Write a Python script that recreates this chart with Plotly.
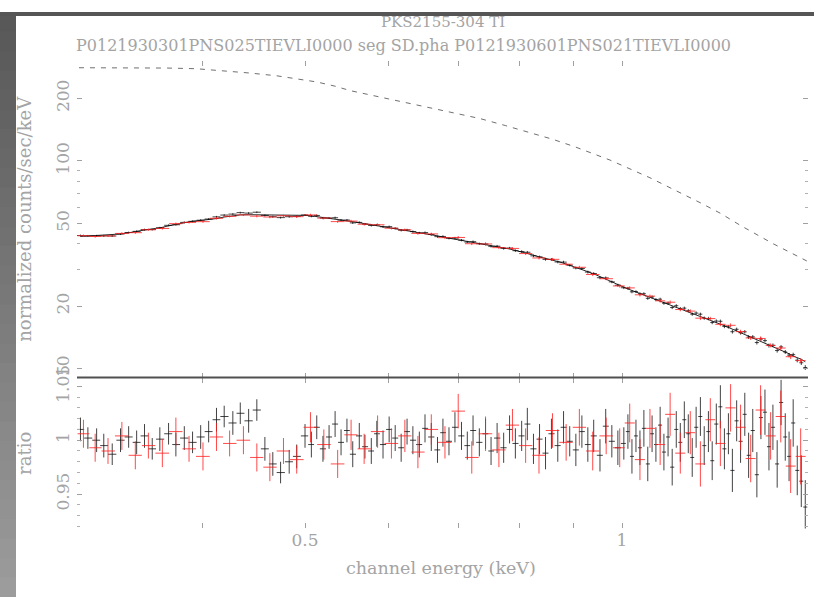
import numpy as np
import plotly.graph_objects as go

# ---- data group 1 (black) ----
E_BLACK = [0.306, 0.311, 0.317, 0.322, 0.328, 0.334, 0.340, 0.346, 0.352, 0.358,
           0.364, 0.371, 0.377, 0.384, 0.391, 0.398, 0.405, 0.412, 0.419, 0.427,
           0.434, 0.442, 0.450, 0.458, 0.466, 0.474, 0.483, 0.491,
           0.500, 0.507, 0.513, 0.520, 0.527, 0.534, 0.541, 0.548, 0.555, 0.563,
           0.570, 0.578, 0.585, 0.593, 0.601, 0.609, 0.617, 0.625, 0.633, 0.642,
           0.650, 0.659, 0.668, 0.676, 0.685, 0.694, 0.704, 0.713, 0.722, 0.732,
           0.742, 0.751, 0.761, 0.772, 0.782, 0.792, 0.803, 0.813, 0.824, 0.835,
           0.846, 0.857, 0.869, 0.880, 0.892, 0.904, 0.916, 0.928, 0.940, 0.953,
           0.965, 0.978, 0.991,
           1.004, 1.013, 1.022, 1.031, 1.040, 1.049, 1.058, 1.068, 1.077, 1.087,
           1.096, 1.106, 1.116, 1.126, 1.136, 1.146, 1.156, 1.166, 1.176, 1.187,
           1.197, 1.208, 1.218, 1.229, 1.240, 1.251, 1.262, 1.273, 1.285, 1.296,
           1.308, 1.319, 1.331, 1.343, 1.355, 1.367, 1.379, 1.391, 1.404, 1.416,
           1.429, 1.441, 1.454, 1.467, 1.480, 1.493]
RATIO_BLACK = [1.010, 1.002, 1.000, 0.995, 0.987, 1.000, 1.003, 0.998, 1.004, 0.992,
               1.001, 1.006, 0.996, 1.002, 0.998, 1.003, 1.008, 1.019, 1.022, 1.016,
               1.025, 1.018, 1.028, 0.992, 0.978, 0.970, 0.980, 0.985,
               1.004, 0.996, 1.012, 0.992, 1.003, 1.015, 0.998, 1.009, 0.987, 1.004,
               0.994, 0.990, 1.006, 0.996, 1.010, 1.002, 0.993, 1.008, 1.000, 0.996,
               1.011, 1.003, 0.991, 1.007, 0.999, 1.012, 1.004, 0.995, 1.009, 0.998,
               1.006, 0.990, 1.002, 0.993, 1.010, 0.997, 1.004, 1.015, 0.992, 1.001,
               0.988, 1.006, 0.995, 1.012, 0.999, 0.991, 1.008, 0.996, 1.004, 0.986,
               1.013, 0.999, 0.993,
               0.997, 1.008, 0.985, 1.004, 0.993, 1.011, 0.978, 1.006, 0.996, 1.014,
               0.989, 1.003, 0.975, 1.010, 0.998, 1.019, 1.006, 0.984, 1.012, 1.022,
               0.995, 1.008, 0.981, 1.015, 1.031, 0.992, 1.006, 0.972, 1.018, 0.999,
               1.024, 0.986, 1.009, 0.968, 1.021, 1.026, 0.994, 1.012, 0.978, 1.035,
               1.003, 0.985, 1.016, 0.972, 0.962, 0.938]
ERR_BLACK = [0.011, 0.010, 0.011, 0.011, 0.010, 0.011, 0.010, 0.011, 0.011, 0.010,
             0.011, 0.010, 0.011, 0.011, 0.010, 0.011, 0.010, 0.011, 0.010, 0.011,
             0.010, 0.011, 0.010, 0.011, 0.011, 0.010, 0.011, 0.011,
             0.011, 0.012, 0.011, 0.012, 0.011, 0.012, 0.012, 0.011, 0.012, 0.012,
             0.011, 0.012, 0.012, 0.013, 0.012, 0.012, 0.013, 0.012, 0.013, 0.012,
             0.013, 0.013, 0.012, 0.013, 0.013, 0.014, 0.013, 0.013, 0.014, 0.013,
             0.014, 0.013, 0.014, 0.014, 0.013, 0.014, 0.014, 0.015, 0.014, 0.014,
             0.015, 0.014, 0.015, 0.015, 0.014, 0.015, 0.015, 0.016, 0.015, 0.015,
             0.016, 0.015, 0.016,
             0.015, 0.016, 0.016, 0.015, 0.016, 0.017, 0.016, 0.017, 0.016, 0.017,
             0.017, 0.018, 0.017, 0.017, 0.018, 0.017, 0.018, 0.018, 0.019, 0.018,
             0.018, 0.019, 0.018, 0.019, 0.020, 0.019, 0.019, 0.020, 0.019, 0.020,
             0.020, 0.021, 0.020, 0.021, 0.020, 0.021, 0.022, 0.021, 0.022, 0.021,
             0.022, 0.023, 0.022, 0.023, 0.024, 0.025]
MODEL_BLACK = [43.3, 43.5, 43.6, 43.8, 44.1, 44.5, 45.1, 45.9, 46.5, 47.1,
               47.6, 48.7, 49.5, 50.5, 51.3, 51.7, 52.1, 52.8, 53.7, 54.6,
               55.0, 55.1, 55.1, 55.1, 55.1, 55.0, 55.0, 54.9,
               54.7, 54.4, 54.0, 53.5, 53.0, 52.5, 52.0, 51.5, 51.0, 50.4,
               49.9, 49.4, 48.9, 48.4, 47.8, 47.3, 46.7, 46.2, 45.7, 45.2,
               44.7, 44.1, 43.6, 43.0, 42.5, 42.0, 41.4, 40.9, 40.5, 40.0,
               39.6, 39.2, 38.8, 38.2, 37.7, 37.1, 36.5, 35.8, 35.2, 34.5,
               34.0, 33.4, 32.8, 32.2, 31.5, 30.8, 30.1, 29.3, 28.6, 27.8,
               27.0, 26.2, 25.4,
               24.6, 24.2, 23.8, 23.4, 23.1, 22.7, 22.3, 22.0, 21.6, 21.3,
               20.9, 20.6, 20.2, 19.9, 19.5, 19.2, 18.9, 18.6, 18.3, 17.9,
               17.6, 17.3, 17.0, 16.7, 16.4, 16.1, 15.8, 15.5, 15.2, 14.9,
               14.7, 14.4, 14.1, 13.8, 13.6, 13.3, 13.0, 12.8, 12.5, 12.3,
               12.0, 11.8, 11.5, 11.3, 11.1, 10.8]

# ---- data group 2 (red) ----
E_RED = [0.308, 0.316, 0.325, 0.335, 0.345, 0.355, 0.366, 0.377, 0.388, 0.400,
         0.412, 0.424, 0.437, 0.450, 0.463, 0.477, 0.491,
         0.506, 0.521, 0.537, 0.553, 0.569, 0.586, 0.604, 0.622, 0.640, 0.659,
         0.679, 0.699, 0.720, 0.742, 0.764, 0.787, 0.810, 0.834, 0.859, 0.885,
         0.911, 0.938, 0.966, 0.995,
         1.017, 1.040, 1.063, 1.087, 1.111, 1.136, 1.161, 1.187, 1.213, 1.240,
         1.268, 1.296, 1.325, 1.354, 1.384, 1.415, 1.446, 1.478]
RATIO_RED = [1.006, 0.993, 0.990, 1.004, 0.986, 0.995, 0.988, 1.008, 0.992, 0.985,
             1.003, 0.997, 1.000, 0.984, 0.975, 0.990, 0.982,
             1.012, 0.996, 0.978, 1.005, 0.992, 1.008, 0.997, 1.004, 0.989, 1.010,
             0.998, 1.027, 0.984, 1.006, 0.991, 1.014, 0.995, 0.986, 1.009, 0.998,
             1.012, 0.990, 1.004, 0.993,
             1.016, 0.982, 1.011, 0.996, 1.024, 0.988, 1.007, 0.978, 1.019, 0.997,
             1.030, 1.012, 0.983, 1.028, 1.004, 1.022, 0.976, 0.985]
ERR_RED = [0.013, 0.013, 0.012, 0.013, 0.013, 0.012, 0.013, 0.013, 0.012, 0.013,
           0.013, 0.012, 0.013, 0.013, 0.013, 0.012, 0.013,
           0.014, 0.014, 0.013, 0.014, 0.014, 0.015, 0.014, 0.015, 0.015, 0.014,
           0.015, 0.016, 0.015, 0.016, 0.016, 0.015, 0.016, 0.017, 0.016, 0.017,
           0.017, 0.018, 0.017, 0.018,
           0.018, 0.019, 0.018, 0.019, 0.020, 0.019, 0.020, 0.021, 0.020, 0.021,
           0.022, 0.021, 0.022, 0.023, 0.022, 0.024, 0.025, 0.026]
MODEL_RED = [43.4, 43.6, 44.0, 44.6, 45.8, 46.9, 47.9, 49.5, 51.0, 51.8,
             52.8, 54.3, 55.0, 55.1, 55.1, 55.0, 54.9,
             54.3, 53.3, 52.2, 51.1, 50.0, 48.9, 47.6, 46.4, 45.3, 44.1,
             42.8, 41.7, 40.6, 39.6, 38.6, 37.4, 36.0, 34.6, 33.3, 31.9,
             30.4, 28.7, 27.0, 25.2,
             24.1, 23.1, 22.1, 21.3, 20.4, 19.5, 18.8, 17.9, 17.1, 16.4,
             15.7, 14.9, 14.3, 13.6, 12.9, 12.3, 11.7, 11.1]

# ---- upper spectrum ----
E_UPPER = [0.305, 0.341, 0.370, 0.394, 0.424, 0.443, 0.470, 0.495, 0.513, 0.534,
           0.552, 0.600, 0.643, 0.690, 0.733, 0.775, 0.818, 0.860, 0.902, 0.974,
           1.063, 1.120, 1.186, 1.240, 1.295, 1.391, 1.450, 1.498]
COUNTS_UPPER = [281, 281, 280, 278, 271, 265, 257, 248, 240, 229,
                218, 199, 184, 171, 160, 148, 137, 127, 117, 101,
                83, 73, 63, 56, 49, 40, 36, 33]

# axis labels
X_TICKS = [0.4, 0.5, 0.6, 0.7, 0.8, 0.9, 1.0]
X_LABELS = ["", "0.5", "", "", "", "", "1"]
Y_TICKS = [10, 20, 50, 100, 200]
Y_MINOR = [30, 40, 60, 70, 80, 90, 300]
R_TICKS = [0.95, 1.0, 1.05]
R_LABELS = ["0.95", "1", "1.05"]

TITLE = "PKS2155-304 TI"
SUBTITLE = "P0121930301PNS025TIEVLI0000 seg SD.pha P0121930601PNS021TIEVLI0000"

W, H = 814, 597
X0, X1 = 77, 808          # plot frame, pixels
Y_TOP, Y_MID, Y_BOT = 50, 373, 527


def bins(e):
    """half-widths of contiguous channel bins (geometric edges)"""
    e = np.asarray(e, float)
    edges = np.sqrt(e[1:] * e[:-1])
    lo = np.concatenate([[e[0] ** 2 / edges[0]], edges])
    hi = np.concatenate([edges, [e[-1] ** 2 / edges[-1]]])
    return hi - e, e - lo


TEXT = "#a4a4a4"
FONT = "DejaVu Serif"
BLACK = "rgba(20,20,20,0.8)"
RED = "rgba(255,30,30,0.8)"

fig = go.Figure()


def add_group(e, ratio, err, model, color, with_model):
    e = np.asarray(e, float)
    ratio = np.asarray(ratio, float)
    err = np.asarray(err, float)
    model = np.asarray(model, float)
    plus, minus = bins(e)
    ex = dict(type="data", symmetric=False, array=plus, arrayminus=minus,
              color=color, thickness=1, width=0)
    # normalized counts
    fig.add_trace(go.Scatter(
        x=e, y=model * ratio, mode="markers",
        marker=dict(size=2, color=color, opacity=0),
        error_x=ex,
        error_y=dict(type="data", array=model * err, color=color, thickness=1, width=0),
        xaxis="x", yaxis="y", showlegend=False, hoverinfo="skip"))
    if with_model:
        fig.add_trace(go.Scatter(
            x=e, y=model, mode="lines", line=dict(color="rgba(0,0,0,0.85)", width=1),
            xaxis="x", yaxis="y", showlegend=False, hoverinfo="skip"))
    # data / model
    fig.add_trace(go.Scatter(
        x=e, y=ratio, mode="markers",
        marker=dict(size=2, color=color, opacity=0),
        error_x=ex,
        error_y=dict(type="data", array=err, color=color, thickness=1, width=0),
        xaxis="x2", yaxis="y2", showlegend=False, hoverinfo="skip"))


fig.add_trace(go.Scatter(
    x=E_UPPER, y=COUNTS_UPPER, mode="lines",
    line=dict(color="rgba(50,50,50,0.7)", width=1, dash="5px,6px"),
    xaxis="x", yaxis="y", showlegend=False, hoverinfo="skip"))
add_group(E_BLACK, RATIO_BLACK, ERR_BLACK, MODEL_BLACK, BLACK, True)
add_group(E_RED, RATIO_RED, ERR_RED, MODEL_RED, RED, False)

xr = [(X0 - 622) / 1053, (X1 - 622) / 1053]
dom_x = [X0 / W, X1 / W]
tickfont = dict(family=FONT, size=17, color=TEXT)
common_x = dict(type="log", range=xr, domain=dom_x, tickvals=X_TICKS,
                ticks="inside", ticklen=5, tickcolor="#a0a0a0", tickwidth=1,
                mirror="ticks", showline=False, showgrid=False, zeroline=False)

fig.update_layout(
    width=W, height=H, margin=dict(l=0, r=0, t=0, b=0),
    paper_bgcolor="white", plot_bgcolor="white",
    xaxis=dict(**common_x, anchor="y", showticklabels=False),
    xaxis2=dict(**common_x, anchor="y2", matches="x", ticktext=X_LABELS,
                showticklabels=True, tickfont=tickfont, ticklabelstandoff=0),
    yaxis=dict(type="log", range=[2 - (Y_MID - 152) / 212, 2 + (152 - Y_TOP) / 212],
               domain=[1 - Y_MID / H, 1 - Y_TOP / H], anchor="x",
               tickvals=Y_TICKS, ticktext=[str(v) for v in Y_TICKS],
               minor=dict(tickvals=Y_MINOR, ticks="inside", ticklen=3, tickcolor="#b0b0b0"),
               ticks="inside", ticklen=5, tickcolor="#a0a0a0", mirror="ticks",
               tickangle=-90, tickfont=tickfont, ticklabelstandoff=4,
               showline=False, showgrid=False, zeroline=False),
    yaxis2=dict(range=[1 - (Y_BOT - 437) / 1100, 1 + (437 - Y_MID) / 1100],
                domain=[1 - Y_BOT / H, 1 - Y_MID / H], anchor="x2",
                tickvals=R_TICKS, ticktext=R_LABELS,
                minor=dict(dtick=0.01, ticks="inside", ticklen=3, tickcolor="#b0b0b0"),
                ticks="inside", ticklen=5, tickcolor="#a0a0a0", mirror="ticks",
                tickangle=-90, tickfont=tickfont, ticklabelstandoff=4,
                showline=False, showgrid=False, zeroline=False),
)

shapes = []
# grey page edge (left band shaded top to bottom, thin strip along the top)
n = 30
for i in range(n):
    g = int(88 + (156 - 88) * i / (n - 1))
    shapes.append(dict(type="rect", xref="paper", yref="paper",
                       x0=0, x1=16 / W, y0=max(0.0, 1 - (i + 1) / n - 2 / H),
                       y1=1 - i / n,
                       line=dict(width=0), fillcolor=f"rgb({g},{g},{g})", layer="above"))
shapes.append(dict(type="rect", xref="paper", yref="paper", x0=0, x1=1,
                   y0=1 - 4 / H, y1=1, line=dict(width=0), fillcolor="rgb(85,85,85)"))
# panel divider
shapes.append(dict(type="line", xref="paper", yref="paper", x0=X0 / W, x1=X1 / W,
                   y0=1 - Y_MID / H, y1=1 - Y_MID / H,
                   line=dict(color="rgb(80,80,80)", width=2)))
fig.update_layout(shapes=shapes)

fig.update_layout(annotations=[
    dict(text=TITLE, x=443 / W, y=1 - 10 / H, xref="paper", yref="paper",
         showarrow=False, font=dict(family=FONT, size=15, color=TEXT),
         xanchor="center", yanchor="middle", borderpad=0),
    dict(text=SUBTITLE, x=75 / W, y=1 - 34 / H, xref="paper", yref="paper",
         showarrow=False, font=dict(family=FONT, size=16, color=TEXT),
         xanchor="left", yanchor="middle", borderpad=0),
    dict(text="channel energy (keV)", x=441 / W, y=1 - 567 / H, xref="paper", yref="paper",
         showarrow=False, font=dict(family=FONT, size=17.5, color=TEXT),
         xanchor="center", yanchor="middle"),
    dict(text="normalized counts/sec/keV", x=25 / W, y=1 - 211 / H, xref="paper",
         yref="paper", showarrow=False, font=dict(family=FONT, size=18, color=TEXT),
         textangle=-90, xanchor="center", yanchor="middle"),
    dict(text="ratio", x=25 / W, y=1 - 451 / H, xref="paper", yref="paper",
         showarrow=False, font=dict(family=FONT, size=18, color=TEXT), textangle=-90,
         xanchor="center", yanchor="middle"),
])

fig.write_html("out.html")
